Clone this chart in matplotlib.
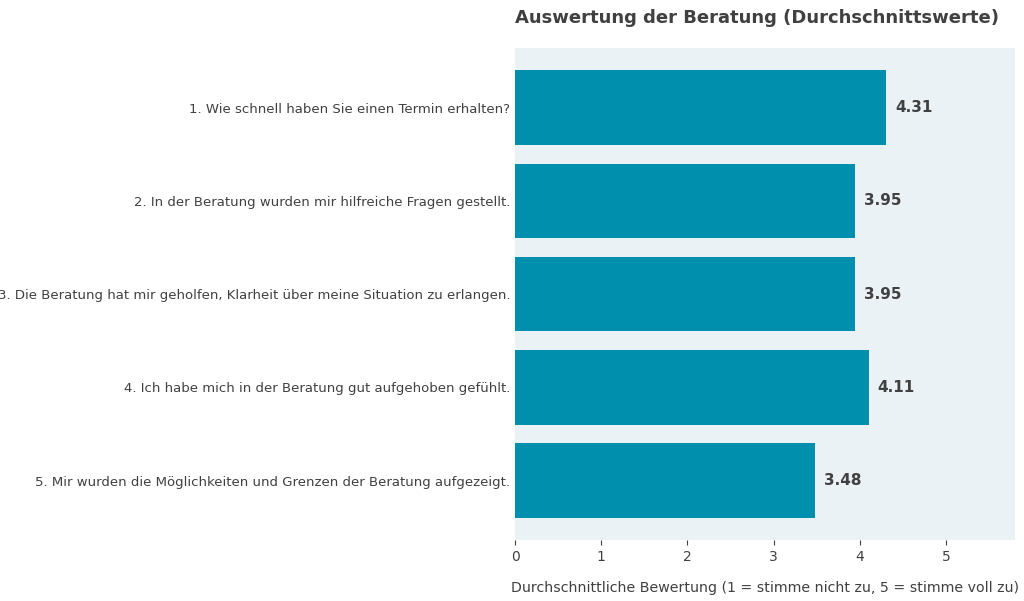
import matplotlib
matplotlib.use("Agg")
import matplotlib.pyplot as plt

questions = [
    "1. Wie schnell haben Sie einen Termin erhalten?",
    "2. In der Beratung wurden mir hilfreiche Fragen gestellt.",
    "3. Die Beratung hat mir geholfen, Klarheit über meine Situation zu erlangen.",
    "4. Ich habe mich in der Beratung gut aufgehoben gefühlt.",
    "5. Mir wurden die Möglichkeiten und Grenzen der Beratung aufgezeigt.",
]
means = [4.31, 3.95, 3.95, 4.11, 3.48]

text_col = "#404040"
fig = plt.figure(figsize=(10.24, 6.01), dpi=100)
ax = fig.add_axes([0.503, 0.101, 0.488, 0.819])
ax.set_facecolor("#eaf2f6")

pos = list(range(len(questions)))
ax.barh(pos, means, height=0.8, color="#008fad")
for p, v in zip(pos, means):
    ax.text(v + 0.1, p, f"{v:.2f}", va="center", ha="left",
            fontsize=11, fontweight="bold", color=text_col)

ax.set_yticks(pos)
ax.set_yticklabels(questions, fontsize=9.5, color=text_col)
ax.set_ylim(4.64, -0.64)
ax.set_xlim(0, 5.8)
ax.set_xticks(range(6))
ax.tick_params(axis="x", colors=text_col, labelsize=10)
ax.tick_params(axis="y", length=0)
for s in ax.spines.values():
    s.set_visible(False)
ax.set_xlabel("Durchschnittliche Bewertung (1 = stimme nicht zu, 5 = stimme voll zu)",
              fontsize=10.2, color=text_col, labelpad=12)
ax.set_title("Auswertung der Beratung (Durchschnittswerte)", fontsize=13,
             fontweight="bold", color=text_col, pad=18, loc="left")

fig.savefig("out.png", dpi=100)
